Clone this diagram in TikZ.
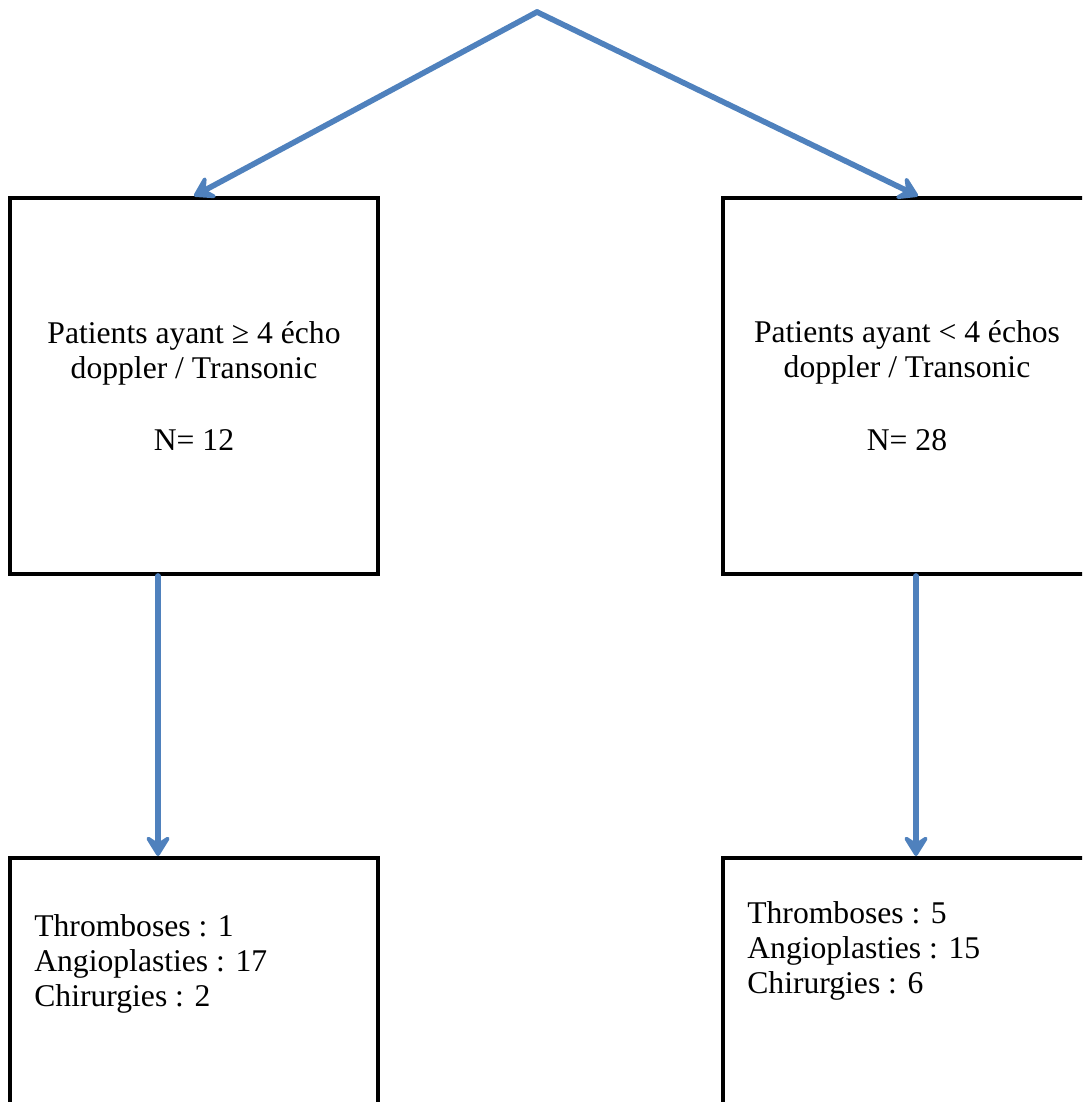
\documentclass[tikz,border=0pt]{standalone}
\usepackage{fontspec}
\setmainfont{Liberation Serif}
\usetikzlibrary{arrows.meta}
\definecolor{flowblue}{RGB}{79,129,189}
\tikzset{
	box/.style={draw, line width=2.3pt, minimum width=7.36cm, minimum height=7.52cm,
		inner sep=0pt, align=center, font=\fontsize{18}{19.9}\selectfont},
	listtext/.style={inner sep=0pt, align=left, anchor=north west,
		font=\fontsize{18}{19.9}\selectfont},
	flow/.style={draw=flowblue, line width=3.2pt, line cap=round,
		-{Stealth[length=0.5cm,width=0.62cm,inset=0.2cm,round]}}
}

\begin{document}
\begin{tikzpicture}[x=0.02cm,y=-0.02cm]
	\useasboundingbox (0,0) rectangle (1082,1102);
	\clip (0,0) rectangle (1082,1102);
%
	\coordinate (apex) at (537,12);
	\node[box] (lbox) at (194,386) {Patients ayant ≥ 4 écho\\doppler / Transonic\\[0.76cm]N= 12};
	\node[box] (rbox) at (907,386) {Patients ayant < 4 échos\\doppler / Transonic\\[0.76cm]N= 28};
	\node[box] (lres) at (194,1046) {};
	\node[box] (rres) at (907,1046) {};
%
	\node[listtext] (ltxt) at (34,914) {Thromboses : 1\\Angioplasties : 17\\Chirurgies : 2};
	\node[listtext] (rtxt) at (747,901) {Thromboses : 5\\Angioplasties : 15\\Chirurgies : 6};
%
	\draw[flow] (apex) -- (lbox.north);
	\draw[flow] (apex) -- ([xshift=0.22cm]rbox.north);
	\draw[flow] ([xshift=-0.72cm]lbox.south) -- ([xshift=-0.72cm]lres.north);
	\draw[flow] ([xshift=0.18cm]rbox.south) -- ([xshift=0.18cm]rres.north);
\end{tikzpicture}
\end{document}
